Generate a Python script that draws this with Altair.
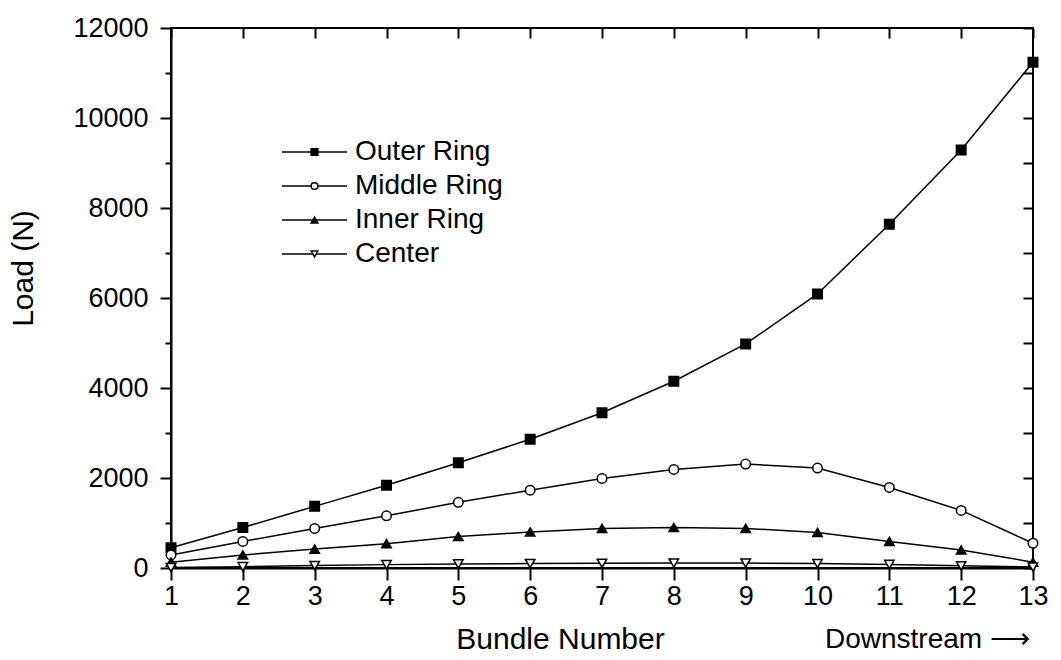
import altair as alt
import pandas as pd

# ---- data ----
bundles = list(range(1, 14))
series_names = ["Outer Ring", "Middle Ring", "Inner Ring", "Center"]
outer_ring = [450, 900, 1370, 1840, 2340, 2860, 3450, 4150, 4980, 6090, 7640, 9290, 11240]
middle_ring = [290, 590, 880, 1160, 1460, 1730, 1990, 2190, 2310, 2220, 1790, 1280, 550]
inner_ring = [130, 290, 420, 540, 700, 800, 880, 900, 880, 790, 590, 400, 130]
center = [10, 30, 55, 75, 90, 100, 105, 110, 110, 100, 80, 50, 20]
y_tick_values = list(range(0, 12001, 1000))
note_text = ["Downstream \u27f6"]

series_values = {
    "Outer Ring": outer_ring,
    "Middle Ring": middle_ring,
    "Inner Ring": inner_ring,
    "Center": center,
}
rows = []
for name in series_names:
    for b, v in zip(bundles, series_values[name]):
        rows.append({"bundle": b, "load": v, "series": name, "series_pt": name})
df = pd.DataFrame(rows)

FONT = "Liberation Sans"
TICK_FS = 27
TITLE_FS = 30
TEXT_FS = 28
xscale = alt.Scale(domain=[1, 13], nice=False, zero=False)
yscale = alt.Scale(domain=[0, 12000], nice=False, zero=True)

common_axis = dict(
    grid=False,
    domainColor="black",
    tickColor="black",
    labelColor="black",
    titleColor="black",
    labelFont=FONT,
    titleFont=FONT,
    labelFontSize=TICK_FS,
    titleFontSize=TITLE_FS,
    titleFontWeight="normal",
    domainWidth=2,
    tickWidth=2,
)

x_axis = alt.Axis(
    orient="bottom",
    values=bundles,
    title="Bundle Number",
    tickSize=12,
    labelPadding=3,
    labelFlush=False,
    titleX=389,
    titleY=80,
    titleAlign="center",
    titleBaseline="alphabetic",
    **common_axis,
)
y_axis = alt.Axis(
    orient="left",
    values=y_tick_values,
    format="d",
    labelExpr="datum.value % 2000 === 0 ? datum.label : ''",
    tickSize={"condition": {"test": "datum.value % 2000 === 0", "value": 11}, "value": 6},
    labelPadding=12,
    title="Load (N)",
    titleX=-133,
    titleY=240,
    titleAngle=-90,
    titleAlign="center",
    titleBaseline="bottom",
    **common_axis,
)

line_legend = alt.Legend(
    orient="none",
    legendX=110,
    legendY=107,
    symbolType="stroke",
    symbolSize=4225,
    symbolStrokeWidth=1.5,
    labelFont=FONT,
    labelFontSize=TEXT_FS,
    labelColor="black",
    labelOffset=7,
    clipHeight=34,
    rowPadding=0,
    padding=0,
)
point_legend = alt.Legend(
    orient="none",
    legendX=139,
    legendY=107,
    symbolSize=45,
    symbolStrokeColor="black",
    symbolStrokeWidth=1.5,
    labelFont=FONT,
    labelFontSize=1,
    labelOpacity=0,
    clipHeight=34,
    rowPadding=0,
    padding=0,
)

lines = alt.Chart(df).mark_line(strokeWidth=1.5).encode(
    x=alt.X("bundle:Q", scale=xscale, axis=x_axis),
    y=alt.Y("load:Q", scale=yscale, axis=y_axis),
    color=alt.Color(
        "series:N",
        sort=series_names,
        scale=alt.Scale(range=["black", "black", "black", "black"]),
        legend=line_legend,
        title=None,
    ),
)

points = alt.Chart(df).mark_point(
    filled=True, size=90, strokeWidth=1.5, opacity=1
).encode(
    x=alt.X("bundle:Q", scale=xscale, axis=None),
    y=alt.Y("load:Q", scale=yscale, axis=None),
    shape=alt.Shape(
        "series_pt:N",
        scale=alt.Scale(
            domain=series_names,
            range=["square", "circle", "triangle-up", "triangle-down"],
        ),
        legend=point_legend,
        title=None,
    ),
    fill=alt.Fill(
        "series_pt:N",
        scale=alt.Scale(domain=series_names, range=["black", "white", "black", "white"]),
        legend=point_legend,
        title=None,
    ),
    stroke=alt.Stroke(
        "series_pt:N",
        scale=alt.Scale(domain=series_names, range=["black", "black", "black", "black"]),
        legend=point_legend,
        title=None,
    ),
)

frame_axes = alt.Chart(df).mark_point(opacity=0).encode(
    x=alt.X(
        "bundle:Q",
        scale=xscale,
        axis=alt.Axis(
            orient="top", values=bundles, labels=False, domain=False,
            tickSize=10, offset=-10, tickWidth=2, tickColor="black",
            title=None, grid=False,
        ),
    ),
    y=alt.Y(
        "load:Q",
        scale=yscale,
        axis=alt.Axis(
            orient="right", values=y_tick_values, labels=False, domain=False,
            tickSize=10, offset=-10, tickWidth=2, tickColor="black",
            title=None, grid=False,
        ),
    ),
)

note = alt.Chart(pd.DataFrame({"t": note_text})).mark_text(
    align="left", baseline="alphabetic", fontSize=TEXT_FS, font=FONT, color="black"
).encode(text="t:N", x=alt.value(654), y=alt.value(620))

chart = (
    alt.layer(lines, points, frame_axes, note)
    .resolve_axis(x="independent", y="independent")
    .properties(
        width=862,
        height=540,
        autosize=alt.AutoSizeParams(type="none"),
        padding={"left": 171, "top": 28, "right": 28, "bottom": 92},
        background="white",
    )
    .configure_view(stroke="black", strokeWidth=2)
)

chart.save("out.html", embed_options={"renderer": "svg", "actions": False})
